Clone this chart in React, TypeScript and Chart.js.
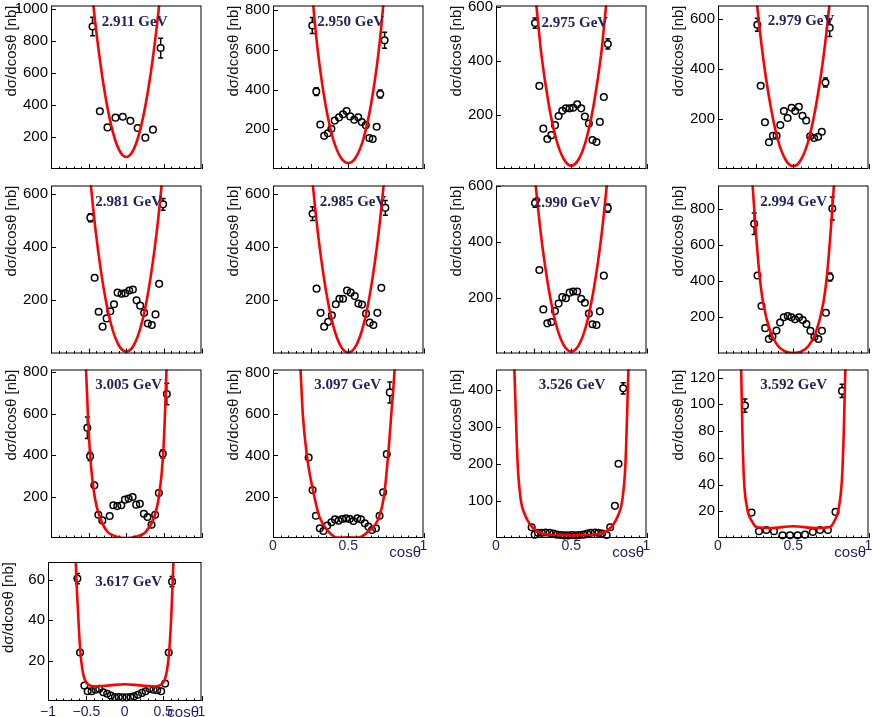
import { useEffect, useRef } from "react";
import { Chart, registerables } from "chart.js";

Chart.register(...registerables);
Chart.defaults.font.family = '"Liberation Sans", Arial, sans-serif';

// energies of the panels
const energies = [
  "2.911 GeV", "2.950 GeV", "2.975 GeV", "2.979 GeV",
  "2.981 GeV", "2.985 GeV", "2.990 GeV", "2.994 GeV",
  "3.005 GeV", "3.097 GeV", "3.526 GeV", "3.592 GeV",
  "3.617 GeV",
];

// measured points (cos theta, d sigma / d cos theta, error)
const cos2911 = [-0.448, -0.351, -0.249, -0.143, -0.046, 0.055, 0.152, 0.254, 0.355, 0.457];
const xs2911 = [891, 361, 260, 321, 327, 301, 256, 196, 246, 756];
const err2911 = [58, 20, 10, 18, 18, 15, 15, 12, 18, 62];

const cos2950 = [-0.478, -0.425, -0.372, -0.32, -0.27, -0.224, -0.18, -0.123, -0.07, -0.022, 0.026, 0.079, 0.132, 0.18, 0.233, 0.28, 0.325, 0.378, 0.425, 0.483];
const xs2950 = [723, 390, 224, 167, 180, 203, 244, 260, 276, 292, 265, 248, 261, 237, 221, 156, 151, 213, 378, 649];
const err2950 = [40, 20, 10, 8, 8, 8, 8, 8, 8, 8, 8, 8, 8, 8, 8, 8, 8, 12, 20, 40];

const cos2975 = [-0.481, -0.424, -0.371, -0.318, -0.265, -0.216, -0.168, -0.119, -0.071, -0.022, 0.026, 0.079, 0.132, 0.181, 0.234, 0.282, 0.335, 0.38, 0.433, 0.486];
const xs2975 = [539, 307, 149, 111, 125, 162, 196, 215, 224, 224, 226, 239, 224, 194, 168, 107, 100, 174, 266, 462];
const err2975 = [19, 10, 6, 6, 6, 6, 6, 6, 6, 6, 6, 6, 6, 6, 6, 6, 6, 8, 10, 19];

const cos2979 = [-0.477, -0.433, -0.376, -0.323, -0.27, -0.221, -0.172, -0.124, -0.075, -0.022, 0.026, 0.074, 0.123, 0.172, 0.225, 0.278, 0.331, 0.379, 0.428, 0.485];
const xs2979 = [577, 333, 187, 107, 133, 133, 176, 232, 204, 245, 232, 249, 213, 194, 131, 124, 129, 149, 346, 565];
const err2979 = [26, 15, 8, 6, 6, 6, 6, 8, 8, 8, 8, 8, 8, 6, 6, 6, 6, 8, 18, 35];

const cos2981 = [-0.477, -0.42, -0.367, -0.314, -0.261, -0.212, -0.163, -0.115, -0.062, -0.013, 0.04, 0.088, 0.137, 0.185, 0.238, 0.287, 0.34, 0.389, 0.437, 0.49];
const xs2981 = [511, 285, 157, 101, 132, 159, 185, 229, 225, 227, 237, 241, 200, 180, 153, 113, 107, 147, 262, 561];
const err2981 = [15, 10, 6, 5, 5, 5, 6, 6, 6, 6, 6, 6, 6, 6, 6, 5, 5, 6, 12, 22];

const cos2985 = [-0.474, -0.421, -0.368, -0.32, -0.267, -0.218, -0.166, -0.117, -0.069, -0.016, 0.033, 0.086, 0.135, 0.183, 0.236, 0.285, 0.334, 0.387, 0.44, 0.493];
const xs2985 = [526, 244, 153, 101, 119, 144, 185, 206, 206, 237, 229, 216, 188, 184, 150, 116, 107, 153, 247, 548];
const err2985 = [26, 10, 6, 5, 5, 6, 6, 6, 6, 6, 6, 6, 6, 6, 6, 5, 5, 8, 12, 28];

const cos2990 = [-0.481, -0.424, -0.371, -0.318, -0.265, -0.216, -0.168, -0.119, -0.071, -0.022, 0.026, 0.079, 0.132, 0.181, 0.234, 0.282, 0.335, 0.38, 0.433, 0.486];
const xs2990 = [539, 299, 158, 108, 113, 152, 179, 202, 198, 218, 222, 222, 196, 182, 143, 105, 102, 151, 279, 521];
const err2990 = [15, 8, 6, 5, 5, 6, 6, 6, 6, 6, 6, 6, 6, 6, 6, 5, 5, 6, 10, 15];

const cos2994 = [-0.519, -0.475, -0.422, -0.373, -0.325, -0.276, -0.223, -0.175, -0.126, -0.073, -0.024, 0.024, 0.077, 0.126, 0.175, 0.228, 0.281, 0.334, 0.381, 0.434, 0.487, 0.519];
const xs2994 = [717, 431, 262, 140, 80, 94, 127, 171, 200, 207, 200, 189, 200, 185, 163, 125, 91, 80, 125, 225, 422, 801];
const err2994 = [59, 20, 10, 6, 5, 5, 6, 6, 6, 6, 6, 6, 6, 6, 6, 6, 5, 5, 6, 12, 22, 64];

const cos3005 = [-0.517, -0.481, -0.424, -0.371, -0.318, -0.22, -0.172, -0.119, -0.066, -0.017, 0.032, 0.085, 0.132, 0.181, 0.234, 0.283, 0.336, 0.384, 0.433, 0.486, 0.539];
const xs3005 = [532, 394, 254, 112, 85, 106, 158, 154, 158, 185, 190, 198, 161, 165, 117, 101, 64, 112, 217, 406, 695];
const err3005 = [52, 20, 10, 6, 5, 5, 6, 6, 6, 6, 6, 6, 6, 6, 6, 5, 5, 6, 12, 20, 52];

const cos3097 = [0.237, 0.263, 0.285, 0.311, 0.335, 0.361, 0.388, 0.412, 0.436, 0.46, 0.486, 0.51, 0.534, 0.56, 0.584, 0.61, 0.634, 0.658, 0.684, 0.708, 0.732, 0.756, 0.776];
const xs3097 = [390, 232, 108, 47, 34, 60, 76, 90, 84, 92, 95, 92, 82, 95, 90, 71, 55, 39, 47, 108, 221, 406, 705];
const err3097 = [15, 8, 5, 3, 3, 3, 3, 3, 3, 3, 3, 3, 3, 3, 3, 3, 3, 3, 3, 5, 8, 18, 51];

const cos3526 = [0.237, 0.257, 0.279, 0.305, 0.33, 0.356, 0.381, 0.405, 0.431, 0.456, 0.48, 0.506, 0.531, 0.555, 0.582, 0.606, 0.63, 0.657, 0.681, 0.705, 0.735, 0.759, 0.79, 0.814, 0.845];
const xs3526 = [29, 9, 14, 14, 15, 14, 12, 9, 8, 7, 7, 8, 7, 8, 9, 12, 14, 15, 14, 12, 8, 29, 87, 201, 405];
const err3526 = [2, 1, 1, 1, 1, 1, 1, 1, 1, 1, 1, 1, 1, 1, 1, 1, 1, 1, 1, 1, 1, 2, 4, 6, 15];

const cos3592 = [0.179, 0.223, 0.272, 0.321, 0.372, 0.429, 0.478, 0.529, 0.578, 0.63, 0.678, 0.73, 0.781, 0.824];
const xs3592 = [99, 19, 5, 6, 5, 2, 2, 2, 2.5, 4.5, 6, 6, 19.5, 110];
const err3592 = [5, 1, 0.5, 0.5, 0.5, 0.5, 0.5, 0.5, 0.5, 0.5, 0.5, 0.5, 1, 5];

const cos3617 = [-0.617, -0.582, -0.526, -0.483, -0.431, -0.379, -0.332, -0.28, -0.229, -0.181, -0.129, -0.078, -0.03, 0.022, 0.074, 0.12, 0.172, 0.224, 0.272, 0.323, 0.375, 0.423, 0.475, 0.527, 0.573, 0.617];
const xs3617 = [60.5, 24, 7.6, 4.8, 4.8, 5.6, 6, 4.3, 3.6, 2.7, 2, 2, 1.8, 1.8, 2, 2.3, 3.1, 4, 4.8, 6, 5.6, 5.3, 4.8, 8.6, 24, 59];
const err3617 = [2.5, 1, 0.3, 0.3, 0.3, 0.3, 0.3, 0.3, 0.3, 0.3, 0.3, 0.3, 0.3, 0.3, 0.3, 0.3, 0.3, 0.3, 0.3, 0.3, 0.3, 0.3, 0.3, 0.4, 1, 2.5];

// fitted curves
const fitCos2911 = [-0.48, -0.4, -0.3, -0.2, -0.1, 0, 0.1, 0.2, 0.3, 0.4, 0.48];
const fitXs2911 = [1215, 867, 520, 273, 124, 75, 124, 273, 520, 867, 1215];
const fitCos2950 = [-0.5, -0.465, -0.4, -0.3, -0.2, -0.1, 0, 0.1, 0.2, 0.3, 0.4, 0.465, 0.5];
const fitXs2950 = [1000, 825, 580, 320, 150, 58, 30, 58, 150, 320, 580, 825, 1000];
const fitCos2975 = [-0.5, -0.464, -0.4, -0.3, -0.2, -0.1, 0, 0.1, 0.2, 0.3, 0.4, 0.464, 0.5];
const fitXs2975 = [690, 605, 430, 240, 110, 37, 12, 37, 110, 240, 430, 605, 690];
const fitCos2979 = [-0.52, -0.48, -0.4, -0.3, -0.2, -0.1, 0, 0.1, 0.2, 0.3, 0.4, 0.48, 0.52];
const fitXs2979 = [790, 655, 445, 250, 112, 36, 11, 36, 112, 250, 445, 655, 790];
const fitCos2981 = [-0.5, -0.47, -0.4, -0.3, -0.2, -0.1, 0, 0.1, 0.2, 0.3, 0.4, 0.47, 0.5];
const fitXs2981 = [720, 632, 445, 245, 108, 31, 7, 31, 108, 245, 445, 632, 720];
const fitCos2985 = [-0.5, -0.47, -0.4, -0.3, -0.2, -0.1, 0, 0.1, 0.2, 0.3, 0.4, 0.47, 0.5];
const fitXs2985 = [720, 632, 445, 243, 105, 28, 4, 28, 105, 243, 445, 632, 720];
const fitCos2990 = [-0.5, -0.472, -0.4, -0.3, -0.2, -0.1, 0, 0.1, 0.2, 0.3, 0.4, 0.472, 0.5];
const fitXs2990 = [680, 602, 420, 232, 102, 30, 7, 30, 102, 232, 420, 602, 680];
const fitCos2994 = [-0.57, -0.54, -0.5, -0.45, -0.4, -0.3, -0.2, -0.1, 0, 0.1, 0.2, 0.3, 0.4, 0.45, 0.5, 0.54, 0.57];
const fitXs2994 = [1100, 928, 690, 440, 280, 115, 40, 10, 3, 10, 40, 115, 280, 440, 690, 928, 1100];
const fitCos3005 = [-0.56, -0.535, -0.51, -0.48, -0.42, -0.35, -0.25, -0.12, 0, 0.12, 0.26, 0.37, 0.435, 0.49, 0.515, 0.535, 0.56];
const fitXs3005 = [950, 815, 600, 400, 200, 100, 30, 6, 0, 6, 30, 100, 200, 400, 600, 815, 950];
const fitCos3097 = [0.17, 0.183, 0.198, 0.225, 0.275, 0.31, 0.37, 0.43, 0.5, 0.57, 0.63, 0.704, 0.737, 0.765, 0.786, 0.808, 0.82];
const fitXs3097 = [1000, 816, 600, 400, 200, 100, 30, 2, 3, 2, 30, 100, 200, 400, 600, 816, 1000];
const fitCos3526 = [0.11, 0.122, 0.144, 0.166, 0.19, 0.221, 0.265, 0.33, 0.4, 0.5, 0.6, 0.67, 0.74, 0.785, 0.815, 0.838, 0.86, 0.88, 0.892];
const fitXs3526 = [600, 456, 200, 100, 65, 40, 20, 10, 8, 7, 8, 10, 20, 40, 65, 100, 200, 456, 600];
const fitCos3592 = [0.145, 0.154, 0.162, 0.172, 0.194, 0.223, 0.26, 0.35, 0.5, 0.65, 0.74, 0.775, 0.802, 0.824, 0.836, 0.846, 0.853];
const fitXs3592 = [170, 126, 80, 45, 22, 13, 8, 7.5, 8.8, 7.5, 8, 13, 22, 45, 80, 126, 170];
const fitCos3617 = [-0.65, -0.638, -0.61, -0.58, -0.55, -0.52, -0.47, -0.4, -0.2, 0, 0.2, 0.4, 0.47, 0.52, 0.55, 0.58, 0.61, 0.634, 0.65];
const fitXs3617 = [90, 68.7, 45, 25, 15, 10.5, 8, 7.2, 7.7, 8.3, 7.7, 7.2, 8, 10.5, 15, 25, 45, 68.7, 90];

// axis ranges and tick labels
const yTops = [1022, 824, 604, 654, 632, 632, 602, 928, 813, 816, 456, 126, 68.7];
const yTicks200 = [200, 400, 600, 800, 1000];
const yTicks100 = [100, 200, 300, 400];
const yTicks20 = [20, 40, 60, 80, 100, 120];
const yTickSets = [
  yTicks200, yTicks200, yTicks200, yTicks200,
  yTicks200, yTicks200, yTicks200, yTicks200,
  yTicks200, yTicks200, yTicks100, yTicks20,
  yTicks20,
];
const xTicksWide = [-1, -0.5, 0, 0.5, 1];
const xTicksHalf = [0, 0.5, 1];
const xTickSets = [
  xTicksWide, xTicksWide, xTicksWide, xTicksWide,
  xTicksWide, xTicksWide, xTicksWide, xTicksWide,
  xTicksWide, xTicksHalf, xTicksHalf, xTicksHalf,
  xTicksWide,
];

const series = [
  [cos2911, xs2911, err2911, fitCos2911, fitXs2911],
  [cos2950, xs2950, err2950, fitCos2950, fitXs2950],
  [cos2975, xs2975, err2975, fitCos2975, fitXs2975],
  [cos2979, xs2979, err2979, fitCos2979, fitXs2979],
  [cos2981, xs2981, err2981, fitCos2981, fitXs2981],
  [cos2985, xs2985, err2985, fitCos2985, fitXs2985],
  [cos2990, xs2990, err2990, fitCos2990, fitXs2990],
  [cos2994, xs2994, err2994, fitCos2994, fitXs2994],
  [cos3005, xs3005, err3005, fitCos3005, fitXs3005],
  [cos3097, xs3097, err3097, fitCos3097, fitXs3097],
  [cos3526, xs3526, err3526, fitCos3526, fitXs3526],
  [cos3592, xs3592, err3592, fitCos3592, fitXs3592],
  [cos3617, xs3617, err3617, fitCos3617, fitXs3617],
];

// page layout of the pads
const colLeft = [0, 222, 445, 667];
const rows = [
  { top: 0, padTop: 0, h: 180, xH: 11 },
  { top: 180, padTop: 4, h: 182, xH: 8.5 },
  { top: 362, padTop: 7.5, h: 198, xH: 22 },
  { top: 548, padTop: 14, h: 169, xH: 16 },
];
const labelPos = [
  [50.7, 17], [44.3, 17], [45.5, 18], [49.7, 16],
  [44.3, 17], [46.7, 17], [37.8, 17.7], [42.3, 16.7],
  [44.3, 15.2], [41.3, 15.5], [42.7, 15.2], [42.3, 15.2],
  [47.3, 19.7],
];
const showXLabels = [false, false, false, false, false, false, false, false, false, true, true, true, true];

const NAVY = "#1e1e66";
const LABEL = "#23235e";

function makeDeco(i: number) {
  const err = series[i][2];
  return {
    id: "deco" + i,
    afterDatasetDraw(chart: any, args: any) {
      if (args.index !== 1) return;
      const { ctx } = chart;
      const meta = chart.getDatasetMeta(1);
      const ys = chart.scales.y;
      ctx.save();
      ctx.strokeStyle = "#000";
      ctx.lineWidth = 1.5;
      meta.data.forEach((pt: any, k: number) => {
        const v = (chart.data.datasets[1].data[k] as any).y;
        const up = ys.getPixelForValue(v + err[k]);
        const dn = ys.getPixelForValue(v - err[k]);
        const r = 3.4;
        if (pt.y - up <= r + 0.5) return;
        ctx.beginPath();
        ctx.moveTo(pt.x, pt.y - r);
        ctx.lineTo(pt.x, up);
        ctx.moveTo(pt.x, pt.y + r);
        ctx.lineTo(pt.x, dn);
        ctx.moveTo(pt.x - 2.5, up);
        ctx.lineTo(pt.x + 2.5, up);
        ctx.moveTo(pt.x - 2.5, dn);
        ctx.lineTo(pt.x + 2.5, dn);
        ctx.stroke();
      });
      ctx.restore();
    },
    afterDraw(chart: any) {
      const { ctx, chartArea: a, scales } = chart;
      const xs = scales.x;
      const ys = scales.y;
      ctx.save();
      ctx.strokeStyle = "#000";
      ctx.lineWidth = 1;
      ctx.strokeRect(a.left + 0.5, a.top + 0.5, a.right - a.left - 1, a.bottom - a.top - 1);
      // x ticks, pointing in; minor ones between the labelled ones
      const ticks = xTickSets[i];
      const x0 = ticks[0];
      const x1 = ticks[ticks.length - 1];
      const minor = x1 - x0 > 1.5 ? 0.1 : 0.05;
      const per = Math.round(0.5 / minor);
      const n = Math.round((x1 - x0) / minor);
      ctx.beginPath();
      for (let k = 0; k <= n; k++) {
        const px = Math.round(xs.getPixelForValue(x0 + k * minor)) + 0.5;
        const len = k % per === 0 ? 5 : 2.5;
        ctx.moveTo(px, a.bottom);
        ctx.lineTo(px, a.bottom - len);
      }
      // y ticks
      ys.ticks.forEach((t: any) => {
        const py = Math.round(ys.getPixelForValue(t.value)) + 0.5;
        ctx.moveTo(a.left, py);
        ctx.lineTo(a.left + 5, py);
      });
      ctx.stroke();
      // energy label
      ctx.font = 'bold 15px "Liberation Serif", "Times New Roman", serif';
      ctx.fillStyle = LABEL;
      ctx.textAlign = "left";
      ctx.textBaseline = "middle";
      ctx.fillText(energies[i], a.left + labelPos[i][0], a.top + labelPos[i][1]);
      // axis title cos
      if (showXLabels[i]) {
        ctx.font = '15px "Liberation Sans", Arial, sans-serif';
        ctx.fillStyle = NAVY;
        ctx.textAlign = "right";
        ctx.textBaseline = "alphabetic";
        ctx.fillText("cosθ", a.right - 2.5, a.bottom + (i === 12 ? 15.5 : 19));
      }
      ctx.restore();
    },
  };
}

function Pad({ i }: { i: number }) {
  const canvasEl = useRef<HTMLCanvasElement>(null);
  const last = i === 12;
  const row = rows[last ? 3 : Math.floor(i / 4)];
  const left = last ? 0 : colLeft[i % 4];
  const yW = last ? 48 : 51;
  const frameW = last ? 154.5 : 152;
  const width = Math.ceil(yW + frameW + 4);

  useEffect(() => {
    const [cx, cy, , fx, fy] = series[i];
    const xt = xTickSets[i];
    const yt = yTickSets[i].filter((v) => v <= yTops[i]);
    const chart = new Chart(canvasEl.current!, {
      type: "scatter",
      data: {
        datasets: [
          {
            type: "line",
            data: fx.map((x, k) => ({ x, y: fy[k] })),
            borderColor: "#ff0000",
            borderWidth: 2.6,
            pointRadius: 0,
            cubicInterpolationMode: "monotone",
            fill: false,
            clip: 0,
          } as any,
          {
            type: "scatter",
            data: cx.map((x, k) => ({ x, y: cy[k] })),
            pointRadius: 3.3,
            pointBorderWidth: 1.5,
            pointBorderColor: "#000",
            pointBackgroundColor: "rgba(0,0,0,0)",
            showLine: false,
            clip: false,
          } as any,
        ],
      },
      options: {
        responsive: false,
        animation: false,
        devicePixelRatio: 1,
        events: [],
        elements: { line: { capBezierPoints: false } },
        layout: { padding: { top: row.padTop, right: width - yW - frameW, bottom: 0, left: 0 } },
        plugins: { legend: { display: false }, tooltip: { enabled: false } },
        scales: {
          x: {
            type: "linear",
            min: xt[0],
            max: xt[xt.length - 1],
            grid: { display: false, drawTicks: false },
            border: { display: false },
            ticks: {
              display: showXLabels[i],
              autoSkip: false,
              maxRotation: 0,
              padding: last ? 2.5 : 0,
              color: NAVY,
              font: { size: 14 },
              callback: (v: any) => (v < 0 ? "\u2212" + String(-v) : String(v)),
            },
            afterBuildTicks: (s: any) => {
              s.ticks = xt.map((value) => ({ value }));
            },
            afterFit: (s: any) => {
              s.height = row.xH;
              s.paddingLeft = 0;
              s.paddingRight = 0;
            },
          },
          y: {
            type: "linear",
            min: 0,
            max: yTops[i],
            grid: { display: false, drawTicks: false },
            border: { display: false },
            ticks: {
              padding: 3,
              color: "#000",
              font: { size: 15 },
              callback: (v: any) => String(v),
            },
            afterBuildTicks: (s: any) => {
              s.ticks = yt.map((value) => ({ value }));
            },
            title: {
              display: true,
              text: "dσ/dcosθ [nb]",
              align: "end",
              color: "#111",
              font: { size: 15 },
              padding: { top: yW - 48, bottom: 0 },
            },
            afterFit: (s: any) => {
              s.width = yW;
              s.paddingTop = 0;
              s.paddingBottom = 0;
            },
          },
        },
      },
      plugins: [makeDeco(i)],
    } as any);
    return () => {
      chart.destroy();
    };
  }, []);

  return (
    <canvas
      ref={canvasEl}
      width={width}
      height={row.h}
      style={{ position: "absolute", left, top: row.top, width, height: row.h }}
    />
  );
}

export default function App() {
  return (
    <div
      style={{
        position: "absolute",
        left: 0,
        top: 0,
        width: 872,
        height: 717,
        overflow: "hidden",
        background: "#fff",
      }}
    >
      {energies.map((_, i) => (
        <Pad key={i} i={i} />
      ))}
    </div>
  );
}
